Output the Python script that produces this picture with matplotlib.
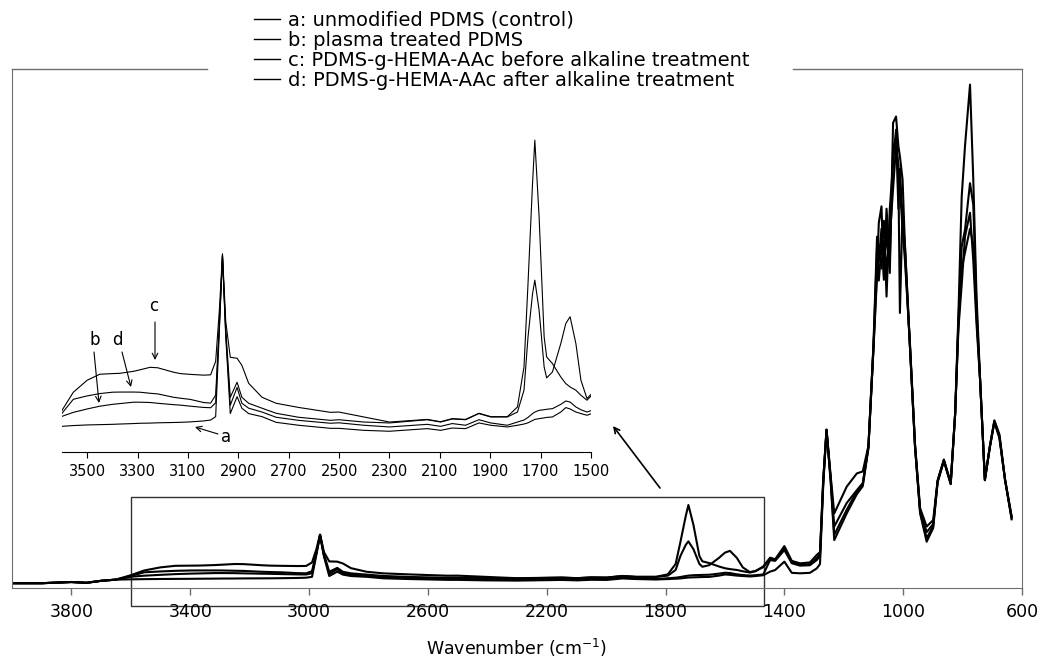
import matplotlib
matplotlib.use("Agg")
import matplotlib.pyplot as plt
import matplotlib.transforms as mtransforms
from matplotlib.patches import Rectangle
from matplotlib.lines import Line2D

# FTIR spectra (absorbance, arbitrary units)
wavenumber = [
    4000, 3900, 3800, 3750, 3700, 3650,
    3600, 3555, 3500, 3450, 3400, 3370, 3316, 3290, 3250, 3220, 3157, 3130, 3090, 3038, 3010,
    2990, 2975, 2963, 2950, 2932, 2905, 2886, 2859, 2806, 2750, 2661, 2534, 2501,
    2402, 2300, 2150, 2097, 2051, 1998, 1945, 1898, 1832, 1792,
    1766, 1750, 1732, 1723, 1706, 1686, 1676, 1653, 1620, 1600, 1583, 1560, 1540, 1516, 1497,
    1471, 1448, 1431, 1400, 1375, 1347, 1314, 1291, 1280,
    1269, 1258, 1244, 1232, 1190, 1156, 1136, 1117,
    1100, 1088, 1082, 1073, 1065, 1056, 1045, 1034, 1024, 1016, 1011, 1002, 994,
    977, 960, 943, 921, 899, 884, 863, 840, 825, 814, 803, 792, 775, 764, 753, 741, 725, 708, 693, 676, 657, 635,
]
abs_a = [
    0.012, 0.012, 0.015, 0.013, 0.018, 0.021,
    0.0217, 0.0222, 0.0226, 0.0228, 0.0230, 0.0232, 0.0235, 0.0237, 0.0238, 0.0240, 0.0242, 0.0243, 0.0246, 0.0252, 0.0258,
    0.0280, 0.0850, 0.1320, 0.0800, 0.0300, 0.0410, 0.0335, 0.0300, 0.0280, 0.0243, 0.0224, 0.0204, 0.0204,
    0.0191, 0.0185, 0.0202, 0.0191, 0.0206, 0.0202, 0.0239, 0.0224, 0.0213, 0.0224,
    0.0232, 0.0240, 0.0255, 0.0262, 0.0267, 0.0272, 0.0275, 0.0278, 0.0310, 0.0339, 0.0330, 0.0310, 0.0300, 0.0289, 0.0300,
    0.0320, 0.0410, 0.0450, 0.0660, 0.0380, 0.0368, 0.0380, 0.0490, 0.0600,
    0.2600, 0.3950, 0.2650, 0.1200, 0.1870, 0.2350, 0.2550, 0.3500,
    0.600, 0.800, 0.915, 0.956, 0.772, 0.897, 0.789, 1.165, 1.181, 1.106, 1.081, 1.023, 0.855,
    0.605, 0.354, 0.187, 0.116, 0.150, 0.265, 0.318, 0.260, 0.437, 0.688, 0.980, 1.106, 1.261, 1.023, 0.730, 0.521, 0.270, 0.354, 0.417, 0.379, 0.270, 0.175,
]
abs_b = [
    0.012, 0.012, 0.015, 0.013, 0.018, 0.021,
    0.0282, 0.0308, 0.0330, 0.0348, 0.0360, 0.0365, 0.0374, 0.0374, 0.0372, 0.0367, 0.0358, 0.0355, 0.0348, 0.0340, 0.0338,
    0.0370, 0.0880, 0.1330, 0.0820, 0.0354, 0.0470, 0.0367, 0.0335, 0.0310, 0.0276, 0.0256, 0.0237, 0.0240,
    0.0224, 0.0213, 0.0230, 0.0217, 0.0235, 0.0224, 0.0260, 0.0239, 0.0224, 0.0245,
    0.0258, 0.0275, 0.0300, 0.0310, 0.0321, 0.0325, 0.0328, 0.0332, 0.0360, 0.0382, 0.0375, 0.0343, 0.0325, 0.0310, 0.0321,
    0.0340, 0.0700, 0.0680, 0.0950, 0.0620, 0.0560, 0.0570, 0.0700, 0.0800,
    0.2650, 0.3960, 0.2700, 0.1330, 0.1960, 0.2420, 0.2600, 0.3520,
    0.605, 0.850, 0.770, 0.855, 0.920, 0.730, 0.950, 1.065, 1.148, 1.023, 0.689, 0.950, 0.840,
    0.600, 0.350, 0.190, 0.125, 0.155, 0.267, 0.319, 0.261, 0.437, 0.670, 0.855, 0.897, 1.014, 0.960, 0.700, 0.520, 0.270, 0.354, 0.415, 0.375, 0.270, 0.178,
]
abs_c = [
    0.012, 0.012, 0.015, 0.013, 0.018, 0.021,
    0.0321, 0.0439, 0.0517, 0.0556, 0.0560, 0.0562, 0.0575, 0.0585, 0.0601, 0.0598, 0.0569, 0.0560, 0.0555, 0.0550, 0.0552,
    0.0640, 0.0980, 0.1340, 0.0900, 0.0666, 0.0660, 0.0614, 0.0497, 0.0406, 0.0367, 0.0340, 0.0308, 0.0310,
    0.0278, 0.0245, 0.0262, 0.0247, 0.0267, 0.0262, 0.0302, 0.0280, 0.0280, 0.0343,
    0.0603, 0.1148, 0.1800, 0.2079, 0.1580, 0.0799, 0.0668, 0.0625, 0.0538, 0.0495, 0.0473, 0.0452, 0.0419, 0.0387, 0.0419,
    0.0540, 0.0760, 0.0720, 0.1050, 0.0680, 0.0618, 0.0640, 0.0827, 0.0900,
    0.2750, 0.3970, 0.2800, 0.1870, 0.2540, 0.2870, 0.2920, 0.3560,
    0.610, 0.880, 0.820, 0.900, 0.780, 0.950, 0.820, 1.100, 1.130, 0.950, 1.050, 0.920, 0.860,
    0.600, 0.355, 0.200, 0.154, 0.170, 0.270, 0.322, 0.264, 0.437, 0.650, 0.760, 0.880, 0.940, 0.820, 0.660, 0.520, 0.272, 0.356, 0.420, 0.385, 0.272, 0.172,
]
abs_d = [
    0.012, 0.012, 0.015, 0.013, 0.018, 0.021,
    0.0302, 0.0393, 0.0415, 0.0430, 0.0439, 0.0440, 0.0440, 0.0439, 0.0432, 0.0428, 0.0406, 0.0400, 0.0392, 0.0372, 0.0368,
    0.0420, 0.0900, 0.1330, 0.0850, 0.0406, 0.0504, 0.0406, 0.0367, 0.0335, 0.0302, 0.0276, 0.0256, 0.0260,
    0.0245, 0.0239, 0.0260, 0.0245, 0.0265, 0.0260, 0.0300, 0.0278, 0.0278, 0.0310,
    0.0452, 0.0799, 0.1080, 0.1168, 0.0972, 0.0603, 0.0532, 0.0571, 0.0755, 0.0886, 0.0930, 0.0755, 0.0517, 0.0398, 0.0430,
    0.0520, 0.0730, 0.0700, 0.1000, 0.0650, 0.0580, 0.0600, 0.0750, 0.0850,
    0.2700, 0.3960, 0.2750, 0.1540, 0.2130, 0.2450, 0.2630, 0.3540,
    0.600, 0.780, 0.860, 0.800, 0.870, 0.800, 0.880, 1.000, 1.106, 1.060, 1.000, 0.900, 0.820,
    0.610, 0.360, 0.195, 0.140, 0.160, 0.268, 0.320, 0.262, 0.437, 0.660, 0.800, 0.840, 0.900, 0.860, 0.680, 0.520, 0.272, 0.355, 0.418, 0.380, 0.271, 0.180,
]
series = [abs_a, abs_b, abs_c, abs_d]
labels = [
    "a: unmodified PDMS (control)",
    "b: plasma treated PDMS",
    "c: PDMS-g-HEMA-AAc before alkaline treatment",
    "d: PDMS-g-HEMA-AAc after alkaline treatment",
]
main_ticks = [3800, 3400, 3000, 2600, 2200, 1800, 1400, 1000, 600]
inset_ticks = [3500, 3300, 3100, 2900, 2700, 2500, 2300, 2100, 1900, 1700, 1500]

W, H = 1040, 666
fig = plt.figure(figsize=(W / 100, H / 100), dpi=100)
plt.rcParams['font.family'] = ['DejaVu Sans']


def px(x, y):
    # figure pixels measured from the top-left corner
    return (x, H - y)


spine_col = '#6e6e6e'

# main spectrum
ax = fig.add_axes([12 / W, 1 - 588 / H, 1010 / W, 519 / H])
for s in series:
    ax.plot(wavenumber, s, color='black', lw=1.5)
ax.set_xlim(4000, 600)
ax.set_ylim(0, 1.3)
ax.set_yticks([])
ax.set_xticks(main_ticks)
ax.tick_params(axis='x', direction='out', length=5, width=1, color=spine_col,
               labelsize=12.5, pad=6)
for side in ('left', 'right', 'bottom'):
    ax.spines[side].set_color(spine_col)
ax.spines['top'].set_visible(False)
# top border is interrupted by the legend
for x0, x1 in ((0, (207 - 12) / 1010), ((793 - 12) / 1010, 1)):
    ax.plot([x0, x1], [1, 1], transform=ax.transAxes, color=spine_col, lw=1,
            clip_on=False)
ax.set_xlabel('Wavenumber (cm$^{-1}$)', fontsize=12.5, labelpad=11)

# box marking the zoomed region
box_tr = mtransforms.blended_transform_factory(ax.transData, fig.transFigure)
ax.add_patch(Rectangle((3600, 1 - 606 / H), 1470 - 3600, (606 - 497) / H,
                       transform=box_tr, fill=False, ec='#333333', lw=1,
                       clip_on=False))
ax.annotate('', xy=px(613, 426), xytext=px(660, 488), xycoords='figure pixels',
            arrowprops=dict(arrowstyle='->', lw=1.2, color='black',
                            shrinkA=0, shrinkB=0))

# inset: same spectra, 3600-1500 cm-1 magnified
ins = fig.add_axes([62 / W, 1 - 452 / H, 529 / W, 322 / H])
ins.patch.set_alpha(0)
for s in series:
    ins.plot(wavenumber, s, color='black', lw=0.8)
ins.set_xlim(3600, 1500)
ins.set_ylim(0.005, 0.2145)
for side in ('left', 'right', 'top'):
    ins.spines[side].set_visible(False)
ins.spines['bottom'].set_linewidth(0.8)
ins.set_yticks([])
ins.set_xticks(inset_ticks)
ins.tick_params(axis='x', direction='out', length=4, width=0.8, labelsize=10.5, pad=5)

notes = [
    ('c', (154, 306), (155, 322), (155, 360)),
    ('b', (95, 340), (94, 352), (99, 403)),
    ('d', (117, 340), (122, 352), (131, 387)),
    ('a', (226, 437), (218, 434), (195, 427)),
]
for letter, tpos, start, end in notes:
    fig.text(tpos[0] / W, 1 - tpos[1] / H, letter, ha='center', va='center', fontsize=12)
    ax.annotate('', xy=px(*end), xytext=px(*start), xycoords='figure pixels',
                arrowprops=dict(arrowstyle='->', lw=0.8, color='black',
                                shrinkA=0, shrinkB=0))

handles = [Line2D([], [], color='black', lw=1.0) for _ in labels]
fig.legend(handles, labels, loc='upper left', bbox_to_anchor=(254 / W, 1 - 11 / H),
           frameon=False, fontsize=14, handlelength=1.34, handletextpad=0.4,
           labelspacing=0.05, borderpad=0, borderaxespad=0)

fig.savefig('out.png', dpi=100)
